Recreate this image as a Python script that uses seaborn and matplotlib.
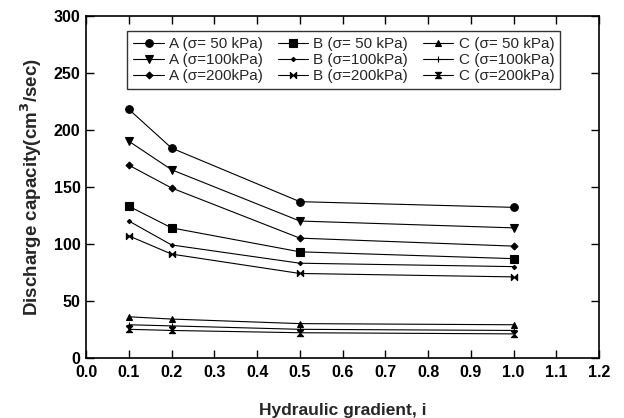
import matplotlib
matplotlib.use("Agg")
import matplotlib.pyplot as plt
from matplotlib.path import Path
import seaborn as sns
import pandas as pd

# Data
gradient = [0.1, 0.2, 0.5, 1.0]

a_50 = [218, 184, 137, 132]
a_100 = [190, 165, 120, 114]
a_200 = [169, 149, 105, 98]
b_50 = [133, 114, 93, 87]
b_100 = [120, 99, 83, 80]
b_200 = [107, 91, 74, 71]
c_50 = [36, 34, 30, 29]
c_100 = [29, 28, 25, 24]
c_200 = [25, 24, 22, 21]

labels = ["A (\u03c3= 50 kPa)", "A (\u03c3=100kPa)", "A (\u03c3=200kPa)",
          "B (\u03c3= 50 kPa)", "B (\u03c3=100kPa)", "B (\u03c3=200kPa)",
          "C (\u03c3= 50 kPa)", "C (\u03c3=100kPa)", "C (\u03c3=200kPa)"]
values = [a_50, a_100, a_200, b_50, b_100, b_200, c_50, c_100, c_200]

#custom bowtie markers
bowtie_h = Path([(-1, -1), (1, 1), (1, -1), (-1, 1), (-1, -1)],
                [Path.MOVETO, Path.LINETO, Path.LINETO, Path.LINETO, Path.CLOSEPOLY])
bowtie_v = Path([(-1, -1), (1, 1), (-1, 1), (1, -1), (-1, -1)],
                [Path.MOVETO, Path.LINETO, Path.LINETO, Path.LINETO, Path.CLOSEPOLY])

markers = ["o", "v", "D", "s", "D", bowtie_h, "^", "+", bowtie_v]
msizes = [5.5, 5.5, 3.5, 5.5, 2.2, 4.5, 5, 4.5, 4.5]

sns.set_style("ticks")
plt.rcParams['font.family'] = ['Liberation Sans', 'DejaVu Sans']

fig = plt.figure(figsize=(6.24, 4.18), dpi=100)
ax = fig.add_axes([0.138, 0.144, 0.822, 0.818])

for lab, vals, mk, ms in zip(labels, values, markers, msizes):
    df = pd.DataFrame({'gradient': gradient, 'q': vals})
    sns.lineplot(x='gradient', y='q', data=df, ax=ax, color='black',
                 linewidth=0.8, marker=mk, markersize=ms,
                 markeredgecolor='black', markerfacecolor='black',
                 markeredgewidth=0.8, label=lab)

ax.set_xlim(0, 1.2)
ax.set_ylim(0, 300)
ax.set_xticks([i / 10 for i in range(13)])
ax.set_xticklabels([f"{i / 10:.1f}" for i in range(13)])
ax.set_yticks(range(0, 301, 50))

for s in ax.spines.values():
    s.set_linewidth(1.2)
    s.set_color('black')
ax.tick_params(direction='in', length=6, width=1, top=True, right=True,
               labelsize=11.5, colors='black')
ax.tick_params(axis='x', pad=5)
ax.tick_params(axis='y', pad=4)
for t in ax.get_xticklabels() + ax.get_yticklabels():
    t.set_fontweight('bold')

ax.set_xlabel("Hydraulic gradient, i", fontsize=12.5, fontweight='bold', labelpad=17)
ax.set_ylabel("Discharge capacity(cm$^\\mathbf{3}$/sec)", fontsize=13.5,
              fontweight='bold', labelpad=7)

leg = ax.legend(ncol=3, loc='upper left', bbox_to_anchor=(0.08, 0.955),
                fontsize=11, frameon=True, fancybox=False, edgecolor='black',
                handlelength=2.0, handletextpad=0.35, columnspacing=0.95,
                labelspacing=0.12, borderpad=0.4, borderaxespad=0)
leg.get_frame().set_linewidth(1.0)

fig.savefig("out.png", dpi=100)
